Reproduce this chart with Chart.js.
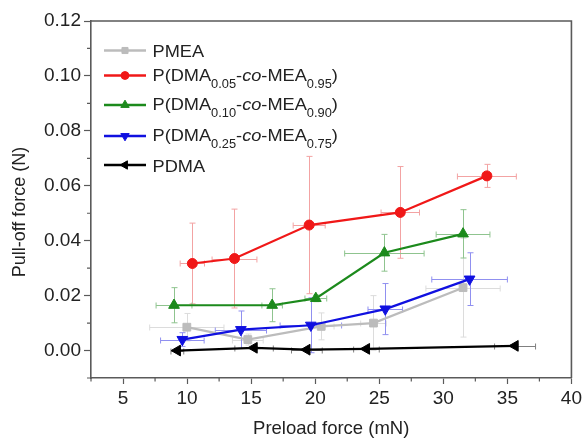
<!DOCTYPE html>
<html><head><meta charset="utf-8">
<script src="https://cdn.jsdelivr.net/npm/chart.js@4.4.1/dist/chart.umd.min.js"></script>
<style>html,body{margin:0;padding:0;background:#fff}</style>
</head><body>
<canvas id="c" width="585" height="440"></canvas>
<script>
// ---------------- DATA ----------------
const seriesNames = ["PMEA", "P(DMA0.05-co-MEA0.95)", "P(DMA0.10-co-MEA0.90)", "P(DMA0.25-co-MEA0.75)", "PDMA"];
// legend rich text: [text, style] where style: n = normal, s = subscript, i = italic
const legendParts = [
  [["PMEA","n"]],
  [["P(DMA","n"],["0.05","s"],["-","n"],["co","i"],["-MEA","n"],["0.95","s"],[")","n"]],
  [["P(DMA","n"],["0.10","s"],["-","n"],["co","i"],["-MEA","n"],["0.90","s"],[")","n"]],
  [["P(DMA","n"],["0.25","s"],["-","n"],["co","i"],["-MEA","n"],["0.75","s"],[")","n"]],
  [["PDMA","n"]]
];

const pmeaX    = [9.98, 14.74, 20.47, 24.55, 31.54];
const pmeaY    = [0.0085, 0.0040, 0.0088, 0.0100, 0.0229];
const pmeaXErr = [2.9, 1.2, 1.0, 1.0, 2.9];
const pmeaYErr = [0.0050, 0.0020, 0.0049, 0.0100, 0.0180];

const dma05X    = [10.41, 13.70, 19.53, 26.64, 33.40];
const dma05Y    = [0.0317, 0.0335, 0.0457, 0.0503, 0.0636];
const dma05XErr = [0.95, 1.75, 1.25, 1.5, 2.3];
const dma05YErr = [0.0147, 0.0180, 0.0250, 0.0167, 0.0042];

const dma10X    = [8.98, 16.64, 20.05, 25.40, 31.54];
const dma10Y    = [0.0165, 0.0165, 0.0190, 0.0356, 0.0425];
const dma10XErr = [1.4, 0.8, 0.85, 3.1, 2.1];
const dma10YErr = [0.0064, 0.0060, 0.0012, 0.0067, 0.0088];

const dma25X    = [9.63, 14.20, 19.66, 25.47, 32.05];
const dma25Y    = [0.0040, 0.0076, 0.0092, 0.0151, 0.0260];
const dma25XErr = [1.7, 2.0, 2.4, 1.35, 2.95];
const dma25YErr = [0.0025, 0.0068, 0.0100, 0.0093, 0.0096];

const pdmaX    = [9.24, 15.23, 19.35, 24.00, 35.60];
const pdmaY    = [0.0000, 0.0010, 0.0003, 0.0006, 0.0017];
const pdmaXErr = [0.5, 1.5, 1.2, 1.0, 1.6];
const pdmaYErr = [0.0004, 0.0004, 0.0004, 0.0004, 0.0004];

const xTicks = [5, 10, 15, 20, 25, 30, 35, 40];
const xMinorTicks = [2.5, 7.5, 12.5, 17.5, 22.5, 27.5, 32.5, 37.5];
const yTicks = [0.00, 0.02, 0.04, 0.06, 0.08, 0.10, 0.12];
const yMinorTicks = [-0.01, 0.01, 0.03, 0.05, 0.07, 0.09, 0.11];
const xTitle = "Preload force (mN)";
const yTitle = "Pull-off force (N)";

// ---------------- STYLE ----------------
const FONT = "'Liberation Sans', Arial, Helvetica, sans-serif";
const AXIS = '#5a5a5a';
const TXT = '#222';

function pts(xs, ys){ return xs.map((v,i)=>({x:v, y:ys[i]})); }

const seriesStyle = [
  {color:'#bcbcbc', err:'#dcdcdc', style:'rect', r:5.5, rot:0},
  {color:'#f01818', err:'#f3a3a3', style:'circle', r:5, rot:0},
  {color:'#1c8a1c', err:'#8fc48f', style:'triangle', r:6.2, rot:0},
  {color:'#1010e0', err:'#9090f0', style:'triangle', r:6.2, rot:180},
  {color:'#000000', err:'#808080', style:'triangle', r:6.2, rot:-90}
];
const allX = [pmeaX, dma05X, dma10X, dma25X, pdmaX];
const allY = [pmeaY, dma05Y, dma10Y, dma25Y, pdmaY];
const allXErr = [pmeaXErr, dma05XErr, dma10XErr, dma25XErr, pdmaXErr];
const allYErr = [pmeaYErr, dma05YErr, dma10YErr, dma25YErr, pdmaYErr];

const datasets = seriesNames.map((name,i)=>({
  label: name,
  data: pts(allX[i], allY[i]),
  showLine: true,
  borderColor: seriesStyle[i].color,
  backgroundColor: seriesStyle[i].color,
  borderWidth: 2.2,
  pointStyle: seriesStyle[i].style,
  pointRadius: seriesStyle[i].r,
  pointRotation: seriesStyle[i].rot,
  pointBorderWidth: 1,
  pointBorderColor: seriesStyle[i].color,
  pointBackgroundColor: seriesStyle[i].color,
  order: 5 - i,
  tension: 0
}));

const extras = {
  id: 'extras',
  beforeDatasetsDraw(chart){
    const {ctx, scales:{x, y}} = chart;
    chart.data.datasets.forEach((ds, i)=>{
      const xe = allXErr[i], ye = allYErr[i];
      ctx.save();
      ctx.strokeStyle = seriesStyle[i].err;
      ctx.lineWidth = 1;
      ds.data.forEach((p, j)=>{
        const px = Math.round(x.getPixelForValue(p.x)) + 0.5;
        const py = Math.round(y.getPixelForValue(p.y)) + 0.5;
        const xl = x.getPixelForValue(p.x - xe[j]), xr = x.getPixelForValue(p.x + xe[j]);
        const yt = y.getPixelForValue(p.y + ye[j]), yb = y.getPixelForValue(p.y - ye[j]);
        const c = 3;
        ctx.beginPath();
        ctx.moveTo(xl, py); ctx.lineTo(xr, py);
        ctx.moveTo(xl, py - c); ctx.lineTo(xl, py + c);
        ctx.moveTo(xr, py - c); ctx.lineTo(xr, py + c);
        ctx.moveTo(px, yt); ctx.lineTo(px, yb);
        ctx.moveTo(px - c, yt); ctx.lineTo(px + c, yt);
        ctx.moveTo(px - c, yb); ctx.lineTo(px + c, yb);
        ctx.stroke();
      });
      ctx.restore();
    });
  },
  afterDraw(chart){
    const {ctx, chartArea: ca, scales:{x, y}} = chart;
    ctx.save();
    // frame top & right
    ctx.strokeStyle = AXIS; ctx.lineWidth = 1.6;
    ctx.beginPath();
    ctx.moveTo(ca.left, ca.top); ctx.lineTo(ca.right, ca.top); ctx.lineTo(ca.right, ca.bottom);
    ctx.stroke();
    // minor ticks
    ctx.lineWidth = 1.2;
    ctx.beginPath();
    xMinorTicks.forEach(v=>{ const px = x.getPixelForValue(v); ctx.moveTo(px, ca.bottom); ctx.lineTo(px, ca.bottom + 3.5); });
    yMinorTicks.forEach(v=>{ const py = y.getPixelForValue(v); ctx.moveTo(ca.left, py); ctx.lineTo(ca.left - 4, py); });
    ctx.stroke();
    // y title
    ctx.fillStyle = TXT;
    ctx.font = "18px " + FONT;
    ctx.translate(20, 212);
    ctx.rotate(-Math.PI/2);
    ctx.textAlign = 'center'; ctx.textBaseline = 'middle';
    ctx.fillText(yTitle, 0, 0);
    ctx.restore();

    // legend
    const rowsY = [50.5, 75.5, 105, 136, 165];
    const lineX0 = 104, lineX1 = 146, textX = 152.5, sx = 1.07;
    chart.data.datasets.forEach((ds, i)=>{
      const L = rowsY[i];
      const st = seriesStyle[i];
      ctx.save();
      ctx.strokeStyle = st.color; ctx.lineWidth = 2.4;
      ctx.beginPath(); ctx.moveTo(lineX0, L); ctx.lineTo(lineX1, L); ctx.stroke();
      ctx.fillStyle = st.color; ctx.strokeStyle = st.color; ctx.lineWidth = 1;
      Chart.helpers.drawPoint(ctx, {pointStyle: st.style, radius: st.r * 0.78, rotation: st.rot, borderWidth: 1}, (lineX0 + lineX1)/2, L);
      ctx.restore();
      const parts = legendParts[i];
      const hasSub = parts.some(p=>p[1]==='s');
      const base = hasSub ? L + 5 : L + 6.5;
      ctx.save();
      ctx.translate(textX, base);
      ctx.scale(sx, 1);
      ctx.fillStyle = TXT;
      ctx.textBaseline = 'alphabetic';
      let cx = 0;
      parts.forEach(([t, s])=>{
        let dy = 0;
        if (s === 's') { ctx.font = "12px " + FONT; dy = 7; }
        else if (s === 'i') { ctx.font = "italic 17px " + FONT; }
        else { ctx.font = "17px " + FONT; }
        ctx.fillText(t, cx, dy);
        cx += ctx.measureText(t).width;
      });
      ctx.restore();
    });
  }
};

new Chart(document.getElementById('c'), {
  type: 'scatter',
  data: { datasets },
  options: {
    responsive: false,
    devicePixelRatio: 1,
    animation: false,
    layout: { padding: { top: 21, right: 13, left: 0, bottom: 0 } },
    plugins: { legend: { display: false }, tooltip: { enabled: false } },
    scales: {
      x: {
        type: 'linear', min: 2.5, max: 40,
        afterBuildTicks(s){ s.ticks = xTicks.map(v=>({value:v})); },
        afterFit(s){ s.height = 62; },
        grid: { drawOnChartArea: false, drawTicks: true, tickLength: 6, tickColor: AXIS, tickWidth: 1.2 },
        border: { display: true, color: AXIS, width: 1.6 },
        ticks: { color: TXT, font: { family: FONT, size: 19 }, padding: 3, maxRotation: 0, autoSkip: false,
                 callback: v => String(v) },
        title: { display: true, text: xTitle, color: TXT, font: { family: FONT, size: 18.5 }, padding: { top: 4, bottom: 0 } }
      },
      y: {
        type: 'linear', min: -0.01, max: 0.12,
        afterBuildTicks(s){ s.ticks = yTicks.map(v=>({value:v})); },
        afterFit(s){ s.width = 91; },
        grid: { drawOnChartArea: false, drawTicks: true, tickLength: 7, tickColor: AXIS, tickWidth: 1.2 },
        border: { display: true, color: AXIS, width: 1.6 },
        ticks: { color: TXT, font: { family: FONT, size: 19 }, padding: 3, autoSkip: false,
                 callback: v => Number(v).toFixed(2) },
        title: { display: false }
      }
    }
  },
  plugins: [extras]
});
</script>
</body></html>
